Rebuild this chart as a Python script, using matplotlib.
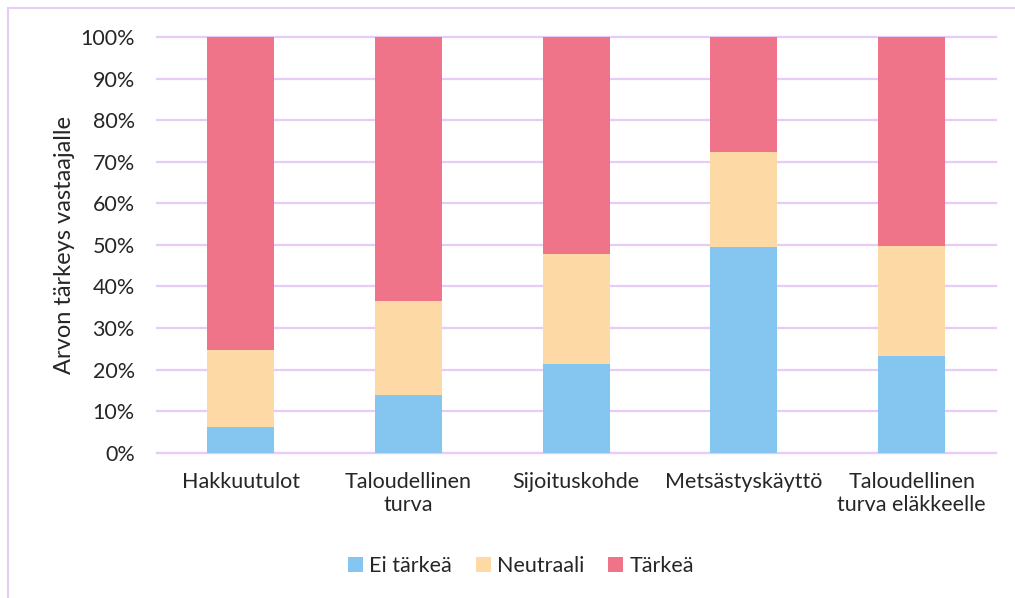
import matplotlib.pyplot as plt
import numpy as np
from matplotlib.patches import Rectangle

plt.rcParams['font.family'] = ['Lato', 'DejaVu Sans']

categories = ['Hakkuutulot', 'Taloudellinen\nturva', 'Sijoituskohde',
              'Metsästyskäyttö', 'Taloudellinen\nturva eläkkeelle']
ei_tarkea = [6.3, 13.8, 21.3, 49.4, 23.3]
neutraali = [18.3, 22.8, 26.5, 23.0, 26.4]
tarkea = [100 - a - b for a, b in zip(ei_tarkea, neutraali)]

c_blue = '#85C6F0'
c_neut = '#FDD9A5'
c_red = '#F07489'
grid_c = '#E8CCF8'
txt_c = '#262626'

fig = plt.figure(figsize=(10.15, 5.98), dpi=100)
ax = fig.add_axes([157 / 1015, 1 - 452.7 / 598, (995.5 - 157) / 1015, (452.7 - 37) / 598])

x = np.arange(len(categories))
w = 0.4
ax.bar(x, ei_tarkea, w, color=c_blue, label='Ei tärkeä', zorder=3)
ax.bar(x, neutraali, w, bottom=ei_tarkea, color=c_neut, label='Neutraali', zorder=3)
bot2 = [a + b for a, b in zip(ei_tarkea, neutraali)]
ax.bar(x, tarkea, w, bottom=bot2, color=c_red, label='Tärkeä', zorder=3)

ax.set_xlim(-0.5, len(categories) - 0.5)
ax.set_ylim(0, 100)
ax.set_yticks(np.arange(0, 101, 10))
ax.set_yticklabels([f'{v}%' for v in range(0, 101, 10)])
ax.yaxis.grid(True, color=grid_c, linewidth=1.6, zorder=0)
for gl in ax.get_ygridlines():
    gl.set_clip_on(False)
ax.set_axisbelow(True)
for s in ['top', 'right', 'left']:
    ax.spines[s].set_visible(False)
ax.spines['bottom'].set_color(grid_c)
ax.spines['bottom'].set_linewidth(1.6)
ax.tick_params(axis='both', length=0, labelsize=15.5, colors=txt_c)
ax.tick_params(axis='x', pad=14)
ax.tick_params(axis='y', pad=16)
ax.set_xticks(x)
ax.set_xticklabels(categories, linespacing=1.15)
ax.set_ylabel('Arvon tärkeys vastaajalle', fontsize=17, color=txt_c, labelpad=4)

fig.legend(loc='center', bbox_to_anchor=(521 / 1015, 1 - 566 / 598), ncol=3,
           frameon=False, fontsize=15.5, handlelength=0.7, handleheight=0.7,
           handletextpad=0.3, columnspacing=1.1, labelcolor=txt_c)

fig.patches.append(Rectangle((8 / 1015, -0.1), 1.1, (1 - 8 / 598) + 0.1,
                             transform=fig.transFigure, fill=False,
                             edgecolor=grid_c, linewidth=1.5))

fig.savefig('out.png', dpi=100)
